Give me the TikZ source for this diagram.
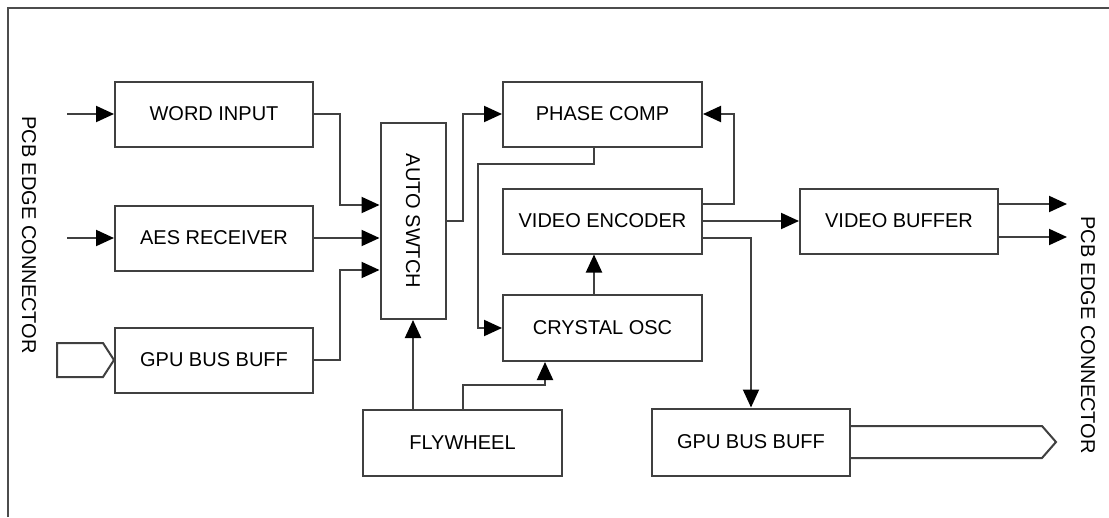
\documentclass[tikz,border=0pt]{standalone}
\usepackage{fontspec}
\setmainfont{Liberation Sans}
\usetikzlibrary{arrows.meta,calc}
\begin{document}
\begin{tikzpicture}[x=1pt,y=-1pt,
  ln/.style={draw=black!75,line width=2pt},
  arr/.style={ln,-{Triangle[length=18pt,width=16pt,color=black]}},
  blk/.style={ln,rectangle,minimum width=198pt,minimum height=65pt,inner sep=0pt,
    font=\fontsize{20}{22}\selectfont,text=black},
  lbl/.style={font=\fontsize{20}{22}\selectfont,text=black,rotate=-90,inner sep=0pt}]
\useasboundingbox (0,0) rectangle (1109,517);
\draw[draw=black!70,line width=2.5pt] (8,517) -- (8,8) -- (1109,8);

\node[blk] (word) at (214,114) {WORD INPUT};
\node[blk] (aes) at (214,238) {AES RECEIVER};
\node[blk] (gpul) at (214,360) {GPU BUS BUFF};
\node[blk,minimum width=65pt,minimum height=196pt] (auto) at (413,221) {};
\node[lbl] (autot) at (auto.center) {AUTO SWTCH};
\node[blk,minimum width=199pt] (phase) at (602.5,114) {PHASE COMP};
\node[blk,minimum width=199pt] (venc) at (602.5,221) {VIDEO ENCODER};
\node[blk,minimum width=199pt,minimum height=66pt] (xtal) at (602.5,328) {CRYSTAL OSC};
\node[blk,minimum width=199pt,minimum height=66pt] (fly) at (462.5,443) {FLYWHEEL};
\node[blk] (vbuf) at (899,221) {VIDEO BUFFER};
\node[blk,minimum height=67pt] (gpur) at (751,442) {GPU BUS BUFF};

\node[lbl] (pcbl) at (29,235) {PCB EDGE CONNECTOR};
\node[lbl] (pcbr) at (1088,335) {PCB EDGE CONNECTOR};

\coordinate (inw) at (67,114);
\coordinate (ina) at (67,238);
\coordinate (o1) at (1067,204);
\coordinate (o2) at (1067,237);

\draw[arr] (inw) -- (word.west);
\draw[arr] (ina) -- (aes.west);
\draw[ln] (gpul.west) -- (103,343) -- (57,343) -- (57,377) -- (103,377) -- cycle;

\draw[arr] (word.east) -- ++(26,0) |- ([yshift=16pt]auto.west);
\draw[arr] (aes.east) -- (aes.east -| auto.west);
\draw[arr] (gpul.east) -- ++(26,0) |- ([yshift=-49pt]auto.west);
\draw[arr] (auto.east) -- ++(16,0) |- (phase.west);
\draw[arr] ([yshift=17pt]venc.east) -- ++(31,0) |- (phase.east);
\draw[arr] ([xshift=-8.5pt]phase.south) -- ++(0,16) -- ++(-116,0) |- (xtal.west);
\draw[arr] ([xshift=-8.5pt]xtal.north) -- ([xshift=-8.5pt]venc.south);
\draw[arr] (auto.south |- fly.north) -- (auto.south);
\draw[arr] (fly.north) -- ++(0,-24) -| ([xshift=-57.5pt]xtal.south);
\draw[arr] (venc.east) -- (vbuf.west);
\draw[arr] ([yshift=-17pt]venc.east) -| (gpur.north);
\draw[arr] ([yshift=17pt]vbuf.east) -- (o1);
\draw[arr] ([yshift=-16pt]vbuf.east) -- (o2);
\draw[ln] ([yshift=16pt]gpur.east) -- (1042,426) -- (1056,442) -- (1042,458) -- ([yshift=-16pt]gpur.east);
\end{tikzpicture}
\end{document}
